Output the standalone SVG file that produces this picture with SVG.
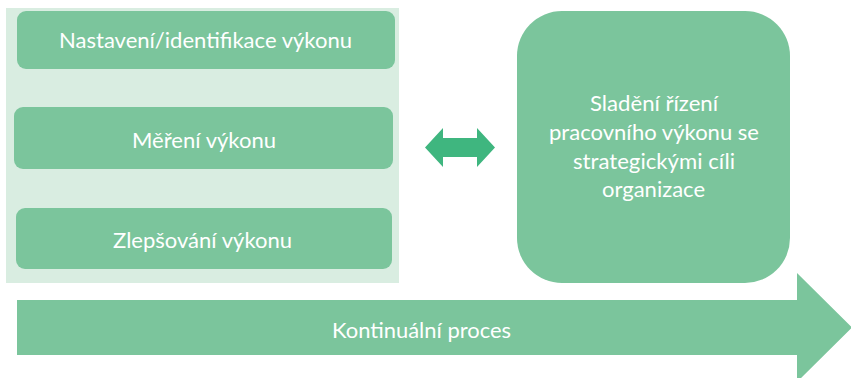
<svg xmlns="http://www.w3.org/2000/svg" width="851" height="378" viewBox="0 0 851 378">
  <style>
    .panel { fill: #d9ede1; }
    .box { fill: #7bc59c; }
    .link { fill: #3fb67f; }
    .label { font-family: Lato, "Open Sans", "Liberation Sans", sans-serif; font-size: 21.5px; fill: #ffffff; text-anchor: middle; }
  </style>
  <rect width="851" height="378" fill="#ffffff"/>

  <!-- light backdrop behind the three process steps -->
  <rect id="steps-panel" class="panel" x="6" y="8" width="393" height="275"/>

  <g id="step-set">
    <rect class="box" x="17" y="11" width="378" height="58" rx="9"/>
    <text class="label" x="205.5" y="47.5" textLength="293" lengthAdjust="spacingAndGlyphs">Nastavení/identifikace výkonu</text>
  </g>
  <g id="step-measure">
    <rect class="box" x="14" y="107" width="379" height="62" rx="9"/>
    <text class="label" x="204" y="147.5" textLength="144" lengthAdjust="spacingAndGlyphs">Měření výkonu</text>
  </g>
  <g id="step-improve">
    <rect class="box" x="16" y="208" width="376" height="61" rx="9"/>
    <text class="label" x="202.5" y="247.5" textLength="179" lengthAdjust="spacingAndGlyphs">Zlepšování výkonu</text>
  </g>

  <g id="alignment">
    <rect class="box" x="517" y="11" width="273" height="272" rx="45"/>
    <text class="label" x="654" y="111" textLength="128" lengthAdjust="spacingAndGlyphs">Sladění řízení</text>
    <text class="label" x="654" y="140" textLength="210" lengthAdjust="spacingAndGlyphs">pracovního výkonu se</text>
    <text class="label" x="654" y="169" textLength="162" lengthAdjust="spacingAndGlyphs">strategickými cíli</text>
    <text class="label" x="653.5" y="197" textLength="103" lengthAdjust="spacingAndGlyphs">organizace</text>
  </g>

  <g id="connectors">
    <!-- two-way link between the steps and the alignment box -->
    <polygon class="link" points="425,147.5 443,128 443,138 477,138 477,128 495,147.5 477,167 477,157 443,157 443,167"/>
  </g>

  <g id="continuous-process">
    <polygon class="box" points="17,300 797,300 797,273 852,327.5 797,382 797,355 17,355"/>
    <text class="label" x="421.5" y="338" textLength="179" lengthAdjust="spacingAndGlyphs">Kontinuální proces</text>
  </g>
</svg>
